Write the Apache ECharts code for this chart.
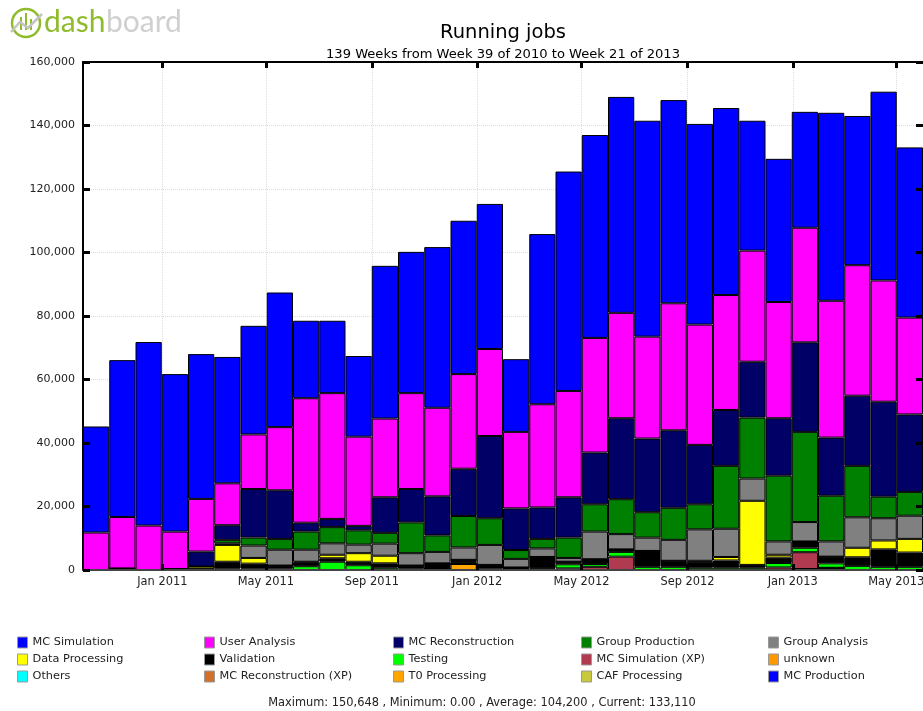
<!DOCTYPE html>
<html><head><meta charset="utf-8">
<style>html,body{margin:0;padding:0;background:#fff;overflow:hidden}#c{width:923px;height:711px}</style>
<script src="https://cdn.jsdelivr.net/npm/echarts@6/dist/echarts.min.js"></script>
</head><body><div id="c"></div>
<script>
const months = ['2010-10','2010-11','2010-12','2011-01','2011-02','2011-03','2011-04','2011-05','2011-06','2011-07','2011-08','2011-09','2011-10','2011-11','2011-12','2012-01','2012-02','2012-03','2012-04','2012-05','2012-06','2012-07','2012-08','2012-09','2012-10','2012-11','2012-12','2013-01','2013-02','2013-03','2013-04','2013-05'];
const tickLabels = ['Jan 2011','May 2011','Sep 2011','Jan 2012','May 2012','Sep 2012','Jan 2013','May 2013'];
const tickDates = ['2011-01-01','2011-05-01','2011-09-01','2012-01-01','2012-05-01','2012-09-01','2013-01-01','2013-05-01'];
const mcSimulation = [33400,49400,57800,49600,45600,39800,34200,42400,24400,22800,25400,48100,44500,50600,48300,45700,22900,53600,69100,63900,68000,68000,64000,63200,58900,40900,45100,36500,59200,47000,59448,53610];
const userAnalysis = [11800,16200,14000,11800,16600,13200,17200,19900,39200,39600,28100,24800,30200,27900,29800,27400,24100,32500,33500,36100,33200,32100,40000,37900,36200,35000,36600,36100,43100,41100,38200,30500];
const mcReconstruction = [0,0,0,0,4700,4600,15300,15300,2800,2600,1400,11200,10500,12300,14900,25900,13100,9900,12700,16300,25500,23200,24400,18700,17600,17600,18100,28200,18300,22100,29900,24400];
const groupProduction = [0,0,0,0,0,1100,2500,3400,5700,5100,4500,3400,9700,5200,9900,8400,2800,3000,6400,8600,11000,8000,10100,7900,19800,19200,20700,28400,14400,16200,6800,7500];
const groupAnalysis = [0,0,0,0,0,500,3900,5000,3800,3600,2700,3800,3900,3600,3900,6300,2700,2700,1200,8700,4800,4200,6600,9900,8900,7000,4200,6100,4800,9600,7000,7300];
const dataProcessing = [0,0,0,0,700,5300,1800,0,200,1100,2700,2400,0,0,0,0,0,0,0,0,0,0,0,300,1100,20200,900,0,0,3000,2800,4300];
const validation = [0,500,0,300,0,2200,1600,1000,1200,1100,1100,1400,1000,1700,700,1200,800,3500,800,1500,800,5000,1900,1900,2300,900,1700,2000,2100,2700,5500,4500];
const testing = [0,0,0,0,400,400,400,400,1200,2600,1500,700,400,0,600,400,0,600,1300,900,1500,1000,1000,700,700,700,1400,1400,1400,1300,1000,1000];
const mcSimulationXP = [0,0,0,0,0,0,0,0,0,0,0,0,0,0,0,0,0,0,500,1000,4200,0,0,0,0,0,800,5300,0,0,0,0];
const unknown = [0,0,0,0,0,0,0,0,0,0,0,0,0,0,0,0,0,0,0,0,0,0,0,0,0,0,0,0,0,0,0,0];
const others = [0,0,0,0,0,0,0,0,0,0,0,0,0,0,0,0,0,0,0,0,0,0,0,0,0,0,0,0,0,0,0,0];
const mcReconstructionXP = [0,0,0,0,0,0,0,0,0,0,0,0,0,0,0,0,0,0,0,0,0,0,0,0,0,0,0,300,0,0,0,0];
const t0Processing = [0,0,0,0,0,0,0,0,0,0,0,0,0,400,1900,0,0,0,0,0,0,0,0,0,0,0,0,0,700,0,0,0];
const cafProcessing = [0,0,0,0,0,0,0,0,0,0,0,0,0,0,0,0,0,0,0,0,0,0,0,0,0,0,0,0,0,0,0,0];
const mcProduction = [0,0,0,0,0,0,0,0,0,0,0,0,0,0,0,0,0,0,0,0,0,0,0,0,0,0,0,0,0,0,0,0];

const seriesDefs = [
  ['MC Simulation', mcSimulation, '#0000ff'],
  ['User Analysis', userAnalysis, '#ff00ff'],
  ['MC Reconstruction', mcReconstruction, '#000066'],
  ['Group Production', groupProduction, '#008000'],
  ['Group Analysis', groupAnalysis, '#808080'],
  ['Data Processing', dataProcessing, '#ffff00'],
  ['Validation', validation, '#000000'],
  ['Testing', testing, '#00ff00'],
  ['MC Simulation (XP)', mcSimulationXP, '#b03a50'],
  ['unknown', unknown, '#ff9900'],
  ['Others', others, '#00ffff'],
  ['MC Reconstruction (XP)', mcReconstructionXP, '#d2702a'],
  ['T0 Processing', t0Processing, '#ffa500'],
  ['CAF Processing', cafProcessing, '#c8c83c'],
  ['MC Production', mcProduction, '#0000fe']
];

const FONT = 'DejaVu Sans';
const xMin = Date.UTC(2010, 9, 1), xMax = Date.UTC(2013, 5, 1);
const tickValues = tickDates.map(d => Date.parse(d));
const lineStyleBlack = {color: '#000', width: 2};

function xAxisBase(extra) {
  return Object.assign({type: 'value', min: xMin, max: xMax, gridIndex: 0, scale: true}, extra);
}
function yAxisBase(extra) {
  return Object.assign({type: 'value', min: 0, max: 160000, interval: 20000, gridIndex: 0}, extra);
}
const xTick = {show: true, inside: true, length: 6, lineStyle: {color: '#000', width: 3}, customValues: tickValues};
const yTick = {show: true, inside: true, length: 7, lineStyle: {color: '#000', width: 3}};
const gridLine = {show: true, lineStyle: {color: '#dcdcdc', type: 'dotted', width: 1}};

const option = {
  animation: false,
  textStyle: {fontFamily: FONT},
  title: [
    {text: 'Running jobs', left: 503, top: 23, padding: 0, textAlign: 'center',
      textStyle: {fontFamily: FONT, fontSize: 19.5, fontWeight: 'normal', color: '#000'}},
    {text: '139 Weeks from Week 39 of 2010 to Week 21 of 2013', left: 503, top: 48, padding: 0, textAlign: 'center',
      textStyle: {fontFamily: FONT, fontSize: 13.1, fontWeight: 'normal', color: '#000'}},
    {text: 'Maximum: 150,648 , Minimum: 0.00 , Average: 104,200 , Current: 133,110', left: 482, top: 698, padding: 0, textAlign: 'center',
      textStyle: {fontFamily: FONT, fontSize: 11.4, fontWeight: 'normal', color: '#222'}}
  ],
  grid: {left: 83, right: 0, top: 62, bottom: 141, containLabel: false, outerBoundsMode: 'none'},
  xAxis: [
    {type: 'category', data: months, boundaryGap: true, gridIndex: 0, show: false, position: 'bottom'},
    xAxisBase({position: 'bottom', z: 10, axisLine: {show: true, onZero: false, lineStyle: {color: '#444', width: 2}},
      axisTick: xTick, splitLine: {show: false}, minorTick: {show: false},
      axisLabel: {show: true, customValues: tickValues, margin: 7, hideOverlap: false, showMinLabel: true, showMaxLabel: true,
        color: '#222', fontFamily: FONT, fontSize: 11.4,
        formatter: v => tickLabels[tickValues.indexOf(+v)] || ''}}),
    xAxisBase({position: 'top', z: 10, axisLine: {show: true, onZero: false, lineStyle: lineStyleBlack},
      axisTick: xTick, splitLine: {show: false},
      axisLabel: {show: false}}),
    xAxisBase({position: 'bottom', z: 0, axisLine: {show: false}, axisTick: {show: false, customValues: tickValues},
      axisLabel: {show: false}, splitLine: gridLine})
  ],
  yAxis: [
    yAxisBase({position: 'left', z: 10, axisLine: {show: true, lineStyle: lineStyleBlack}, axisTick: yTick, splitLine: {show: false},
      axisLabel: {show: true, margin: 8, color: '#222', fontFamily: FONT, fontSize: 11,
        formatter: v => Number(v).toLocaleString('en-US')}}),
    yAxisBase({position: 'right', z: 10, axisLine: {show: false}, axisTick: yTick, splitLine: {show: false}, axisLabel: {show: false}}),
    yAxisBase({position: 'left', z: 0, axisLine: {show: false}, axisTick: {show: false}, axisLabel: {show: false}, splitLine: gridLine})
  ],
  legend: [0, 1, 2, 3, 4].map(col => ({
    orient: 'vertical',
    left: [17, 204, 393, 581, 768][col],
    top: 636.5,
    padding: 0,
    itemWidth: 10,
    itemHeight: 11,
    itemGap: 5,
    selectedMode: false,
    icon: 'rect',
    textStyle: {fontFamily: FONT, fontSize: 11.3, color: '#222'},
    itemStyle: {borderColor: '#999', borderWidth: 1},
    data: [0, 1, 2].map(row => seriesDefs[row * 5 + col][0])
  })),
  series: seriesDefs.slice().reverse().map(([name, vals, color]) => ({
    name, type: 'bar', stack: 'jobs', xAxisIndex: 0, yAxisIndex: 0,
    barWidth: '100%', z: 5,
    itemStyle: {color, borderColor: '#000', borderWidth: 1, opacity: 1},
    emphasis: {disabled: true},
    data: vals
  })),
  graphic: [
    {type: 'circle', shape: {cx: 26, cy: 23, r: 14}, style: {fill: 'none', stroke: '#8fbc2c', lineWidth: 2.5}},
    {type: 'rect', shape: {x: 20, y: 17, width: 2, height: 13}, style: {fill: '#8fbc2c'}},
    {type: 'rect', shape: {x: 25, y: 13, width: 2, height: 17}, style: {fill: '#8fbc2c'}},
    {type: 'rect', shape: {x: 30, y: 19, width: 2, height: 11}, style: {fill: '#8fbc2c'}},
    {type: 'polyline', shape: {points: [[11, 32], [20, 22], [28, 28], [42, 14]]}, style: {fill: 'none', stroke: '#c4c4c4', lineWidth: 2.5}},
    {type: 'text', left: 44, top: 7, style: {text: 'dash', fontFamily: 'Lato', fontSize: 30, fill: '#8fbc2c'}},
    {type: 'text', left: 106, top: 7, style: {text: 'board', fontFamily: 'Lato', fontSize: 30, fill: '#d0d0d0'}}
  ]
};
const chart = echarts.init(document.getElementById('c'), null, {renderer: 'canvas'});
chart.setOption(option);
</script></body></html>
